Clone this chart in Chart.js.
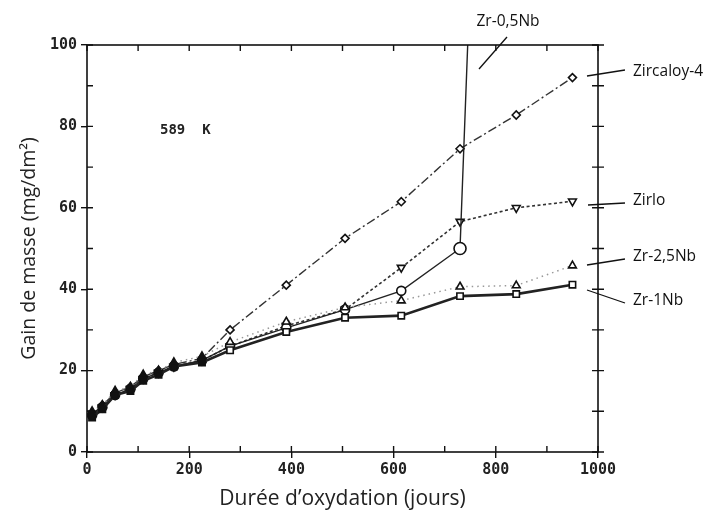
<!DOCTYPE html>
<html>
<head>
<meta charset="utf-8">
<script src="https://cdn.jsdelivr.net/npm/chart.js@4/dist/chart.umd.min.js"></script>
<style>
  html, body { margin: 0; padding: 0; background: #fff; }
  #wrap { width: 708px; height: 516px; position: relative; }
</style>
</head>
<body>
<div id="wrap"><canvas id="chart"></canvas></div>
<script>
// oxidation days (shared sampling)
const days = [10, 30, 55, 85, 110, 140, 170, 225, 280, 390, 505, 615, 730, 840, 950];

// mass gain, mg/dm2
const zircaloy4 = [9, 11.5, 14.5, 16, 18.5, 20, 21.5, 23, 30, 41, 52.5, 61.5, 74.5, 82.8, 92];
const zirlo     = [9.5, 11, 14, 15.5, 18, 19.5, 21, 22.5, 26, 31, 35, 45.3, 56.6, 60, 61.6];
const zr25Nb    = [10, 11.5, 15, 16, 19, 20, 22, 23.5, 27, 32, 35.5, 37.2, 40.6, 40.9, 45.8];
const zr1Nb     = [8.5, 10.5, 14, 15, 17.5, 19, 21, 22, 25, 29.5, 33, 33.5, 38.3, 38.8, 41.1];

// Zr-0,5Nb breaks away after 730 days
const days05Nb = [10, 30, 55, 85, 110, 140, 170, 225, 280, 390, 505, 615, 730, 745];
const zr05Nb   = [9, 11, 14, 15.5, 18, 19.5, 21, 22.5, 26, 30.5, 35, 39.6, 50, 100];

const xTicks = [0, 200, 400, 600, 800, 1000];
const yTicks = [0, 20, 40, 60, 80, 100];

function pts(xs, ys) {
  return ys.map((v, i) => ({ x: xs[i], y: v }));
}

// early points overlap into dark blobs in the original
const fillFor = xs => xs.map(d => d <= 225 ? '#111' : '#fff');

const monoFont = { family: 'DejaVu Sans Mono', size: 15, weight: 'bold' };

/* ===== frame, inner ticks and labels ===== */
const framePlugin = {
  id: 'frame',
  afterDatasetsDraw(chart) {
    const { ctx, chartArea: a, scales: { x, y } } = chart;
    ctx.save();
    ctx.strokeStyle = '#111';
    ctx.lineWidth = 1.6;
    ctx.strokeRect(a.left, a.top, a.right - a.left, a.bottom - a.top);

    ctx.lineWidth = 1.4;
    ctx.beginPath();
    for (let v = 0; v <= 100; v += 10) {
      const py = y.getPixelForValue(v);
      ctx.moveTo(a.left, py); ctx.lineTo(a.left + 6, py);
      ctx.moveTo(a.right - 6, py); ctx.lineTo(a.right + 6, py);
    }
    for (let v = 0; v <= 1000; v += 100) {
      const px = x.getPixelForValue(v);
      ctx.moveTo(px, a.bottom); ctx.lineTo(px, a.bottom - 6);
      ctx.moveTo(px, a.top); ctx.lineTo(px, a.top + 6);
    }
    ctx.stroke();

    // temperature
    ctx.fillStyle = '#222';
    ctx.font = 'bold 14px "DejaVu Sans Mono"';
    ctx.textBaseline = 'middle';
    ctx.fillText('589  K', 160, 130);

    // curve names with leader lines
    ctx.font = '15.5px "Open Sans"';
    ctx.fillStyle = '#111';
    ctx.lineWidth = 1.3;
    const tags = [
      { t: 'Zr-0,5Nb',  tx: 508, ty: 22,  l: [507, 37, 479, 69], align: 'center' },
      { t: 'Zircaloy-4', tx: 633, ty: 72,  l: [587, 76, 625, 70] },
      { t: 'Zirlo',     tx: 633, ty: 201, l: [588, 205, 625, 203] },
      { t: 'Zr-2,5Nb',  tx: 633, ty: 257, l: [587, 265, 625, 259] },
      { t: 'Zr-1Nb',    tx: 633, ty: 301, l: [587, 290, 625, 303] }
    ];
    tags.forEach(g => {
      ctx.textAlign = g.align || 'left';
      ctx.fillText(g.t, g.tx, g.ty);
      ctx.beginPath();
      ctx.moveTo(g.l[0], g.l[1]); ctx.lineTo(g.l[2], g.l[3]);
      ctx.stroke();
    });
    ctx.restore();
  }
};

const markerBase = {
  pointBorderColor: '#111',
  pointBorderWidth: 1.6,
  pointRadius: 4.5,
  fill: false,
  tension: 0
};

new Chart(document.getElementById('chart'), {
  type: 'line',
  data: {
    datasets: [
      Object.assign({}, markerBase, {
        label: 'Zr-1Nb',
        data: pts(days, zr1Nb),
        pointBackgroundColor: fillFor(days),
        borderColor: '#222',
        borderWidth: 2.6,
        pointStyle: 'rect'
      }),
      Object.assign({}, markerBase, {
        label: 'Zr-2,5Nb',
        data: pts(days, zr25Nb),
        pointBackgroundColor: fillFor(days),
        borderColor: '#999',
        borderWidth: 1.5,
        borderDash: [1.5, 4],
        pointStyle: 'triangle'
      }),
      Object.assign({}, markerBase, {
        label: 'Zr-0,5Nb',
        data: pts(days05Nb, zr05Nb),
        pointBackgroundColor: fillFor(days05Nb),
        borderColor: '#222',
        borderWidth: 1.4,
        pointStyle: 'circle',
        pointRadius: days05Nb.map((d, i) => i === days05Nb.length - 1 ? 0 : (d === 730 ? 6 : 4.5))
      }),
      Object.assign({}, markerBase, {
        label: 'Zirlo',
        data: pts(days, zirlo),
        pointBackgroundColor: fillFor(days),
        borderColor: '#333',
        borderWidth: 1.6,
        borderDash: [3, 2.5],
        pointStyle: 'triangle',
        pointRotation: 180
      }),
      Object.assign({}, markerBase, {
        label: 'Zircaloy-4',
        data: pts(days, zircaloy4),
        pointBackgroundColor: fillFor(days),
        borderColor: '#333',
        borderWidth: 1.4,
        borderDash: [9, 3, 2, 3],
        pointStyle: 'rectRot',
        pointRadius: 4
      })
    ]
  },
  options: {
    responsive: true,
    maintainAspectRatio: false,
    animation: false,
    layout: { padding: { top: 45, right: 110, left: 0, bottom: 0 } },
    plugins: {
      legend: { display: false },
      tooltip: { enabled: false }
    },
    scales: {
      x: {
        type: 'linear',
        min: 0,
        max: 1000,
        afterFit: s => { s.height = 64; },
        afterBuildTicks: s => { s.ticks = xTicks.map(v => ({ value: v })); },
        ticks: { color: '#222', font: monoFont, padding: 3, maxRotation: 0, callback: v => String(v) },
        grid: { drawOnChartArea: false, color: '#111', tickLength: 6, lineWidth: 1.4 },
        border: { display: false },
        title: {
          display: true,
          text: 'Durée d’oxydation (jours)',
          color: '#222',
          font: { family: 'Open Sans', size: 21 },
          padding: { top: 2 }
        }
      },
      y: {
        type: 'linear',
        min: 0,
        max: 100,
        afterFit: s => { s.width = 87; },
        afterBuildTicks: s => { s.ticks = yTicks.map(v => ({ value: v })); },
        ticks: { color: '#222', font: monoFont, padding: 4, callback: v => String(v) },
        grid: { drawOnChartArea: false, color: '#111', tickLength: 6, lineWidth: 1.4 },
        border: { display: false },
        title: {
          display: true,
          text: 'Gain de masse (mg/dm²)',
          color: '#222',
          font: { family: 'Open Sans', size: 19.5 },
          padding: { top: 18 }
        }
      }
    }
  },
  plugins: [framePlugin]
});
</script>
</body>
</html>
